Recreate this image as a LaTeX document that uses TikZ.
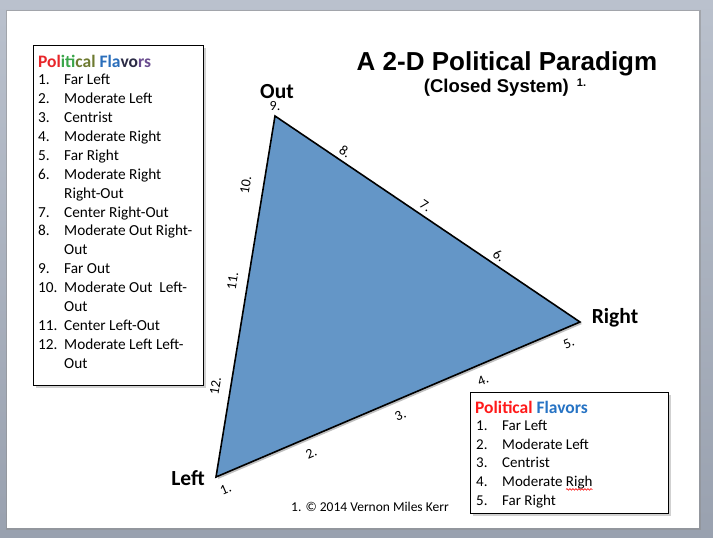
\documentclass[tikz,border=0pt]{standalone}
\usepackage{fontspec}
\setmainfont{Carlito}
\newfontfamily\titlefont{Liberation Sans}
\usetikzlibrary{decorations.pathmorphing}
\definecolor{triblue}{HTML}{6496C7}
\definecolor{frametop}{HTML}{BAC1CD}
\definecolor{framebot}{HTML}{99A1AF}
\definecolor{pred}{HTML}{E8262A}
\definecolor{pgreen}{HTML}{3AA64A}
\definecolor{polive}{HTML}{6E7A30}
\definecolor{pblue}{HTML}{2A6EBB}
\definecolor{pdark}{HTML}{2B2B45}
\definecolor{ppurple}{HTML}{6A4C8F}
\definecolor{fred}{HTML}{FF1A1A}
\definecolor{fblue}{HTML}{2673C4}
\begin{document}
\begin{tikzpicture}[x=1pt,y=-1pt,
  tri/.style={fill=triblue,draw=black,line width=1.6pt,line join=miter},
  vlabel/.style={font=\fontsize{21.5}{24}\selectfont\bfseries,inner sep=0pt},
  elabel/.style={font=\fontsize{14}{15}\selectfont,inner sep=0pt,sloped},
  listbox/.style={draw=black,line width=1pt,fill=white},
  boxshadow/.style={fill=black!18},
  listtext/.style={font=\fontsize{15.3}{18}\selectfont,anchor=base west,inner sep=0pt},
  listtextb/.style={font=\fontsize{15}{18}\selectfont,anchor=base west,inner sep=0pt}]
\useasboundingbox (0,0) rectangle (713,538);
% frame
\shade[top color=frametop,bottom color=framebot] (0,0) rectangle (713,538);
\fill[black!45,opacity=0.5] (6,10) rectangle (701,530);
\fill[white] (7,11) rectangle (699,528);

% title
\node[font=\titlefont\bfseries\fontsize{26}{28}\selectfont,inner sep=0pt] (title) at (507,64) {A 2-D Political Paradigm};
\node[font=\titlefont\bfseries\fontsize{18.5}{20}\selectfont,inner sep=0pt] (subtitle) at (505,88) {(Closed System)\hspace{8pt}\raisebox{6pt}{\fontsize{11}{11}\selectfont 1.}};

% triangle
\coordinate (L) at (216,477);
\coordinate (R) at (580,322);
\coordinate (O) at (275,116);
\fill[black!25] ([shift={(2,2)}]L) -- ([shift={(2,2)}]R) -- ([shift={(2,2)}]O) -- cycle;
\draw[tri] (L) -- (R) -- (O) -- cycle;

% vertex labels
\node[vlabel] (out) at (277,92) {Out};
\node[vlabel] (right) at (615,318) {Right};
\node[vlabel] (left) at (188,478) {Left};

% edge labels bottom edge
\path (L) -- (R)
  node[elabel,below=10.5pt,pos=0.01] (e1) {1.}
  node[elabel,below=10.5pt,pos=0.245] (e2) {2.}
  node[elabel,below=10.5pt,pos=0.49] (e3) {3.}
  node[elabel,below=10.5pt,pos=0.717] (e4) {4.}
  node[elabel,below=10.5pt,pos=0.953] (e5) {5.};
% right edge
\path (O) -- (R)
  node[elabel,above=5pt,pos=0.716] (e6) {6.}
  node[elabel,above=5pt,pos=0.476] (e7) {7.}
  node[elabel,above=5pt,pos=0.212] (e8) {8.};
\node[font=\fontsize{14}{15}\selectfont,inner sep=0pt] (e9) at (275,106) {9.};
% left edge
\path (L) -- (O)
  node[elabel,above=13pt,pos=0.80] (e10) {10.}
  node[elabel,above=10.5pt,pos=0.537] (e11) {11.}
  node[elabel,above=10.5pt,pos=0.245] (e12) {12.};

% left list box
\fill[boxshadow] (36,48) rectangle (206,388);
\draw[listbox] (33,45) rectangle (203,385);
\node[listtext,font=\fontsize{17.5}{18}\selectfont\bfseries] (lt) at (38,67)
 {\textcolor{pred}{Pol}\textcolor{pgreen}{iti}\textcolor{polive}{cal} \textcolor{pblue}{Fla}\textcolor{pdark}{vo}\textcolor{ppurple}{rs}};
\foreach \n/\t [count=\k from 1] in {
  1./Far Left, 2./Moderate Left, 3./Centrist, 4./Moderate Right, 5./Far Right,
  6./Moderate Right, /Right-Out, 7./Center Right-Out, 8./Moderate Out Right-, /Out,
  9./Far Out, 10./Moderate Out\ \ Left-, /Out, 11./Center Left-Out, 12./Moderate Left Left-, /Out}{
  \node[listtext] (ln\k) at (38,{66+18.875*\k}) {\n};
  \node[listtext] (lx\k) at (64,{66+18.875*\k}) {\t};
}

% right list box
\fill[boxshadow] (473,395) rectangle (671,516);
\draw[listbox] (470,392) rectangle (668,513);
\node[listtextb,font=\fontsize{17.5}{18}\selectfont\bfseries] (rt) at (475,413)
 {\textcolor{fred}{Political} \textcolor{fblue}{Flavors}};
\foreach \n/\t [count=\k from 1] in {1./Far Left, 2./Moderate Left, 3./Centrist, 4./Moderate Righ, 5./Far Right}{
  \node[listtextb] (rn\k) at (476,{412+18.6*\k}) {\n};
  \node[listtextb] (rx\k) at (502,{412+18.6*\k}) {\t};
}
\draw[red,line width=0.6pt,decorate,decoration={snake,amplitude=0.8pt,segment length=3pt}]
  ([yshift=-3pt]rx4.base -| 566,0) -- ([yshift=-3pt]rx4.base east);

% footnote
\node[font=\fontsize{13.5}{15}\selectfont,inner sep=0pt] (foot) at (370,507) {1. © 2014 Vernon Miles Kerr};
\end{tikzpicture}
\end{document}
